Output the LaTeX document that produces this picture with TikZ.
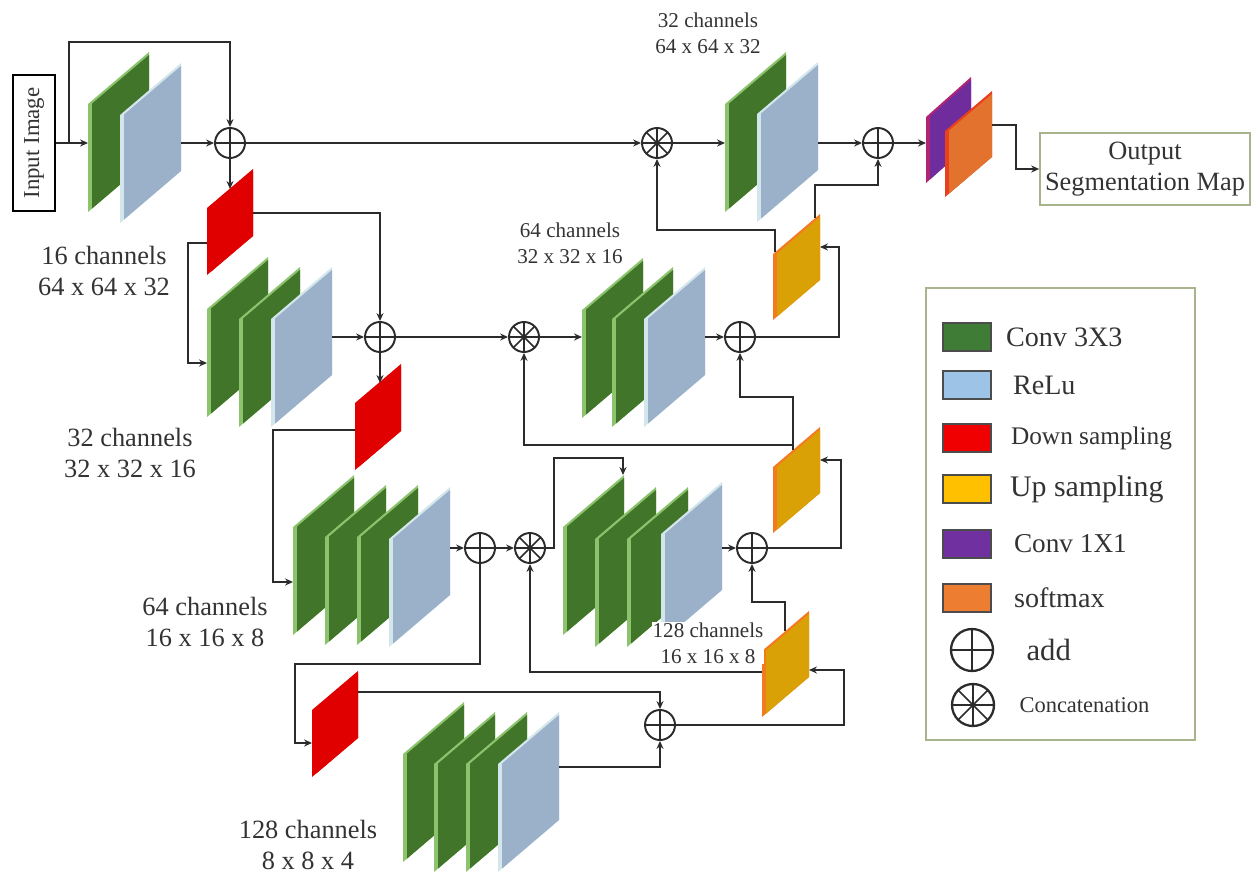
\documentclass[tikz,border=0pt]{standalone}
\usepackage{fontspec}
\setmainfont{Liberation Serif}
\usepackage{xcolor}
\definecolor{convdark}{HTML}{41752A}
\definecolor{convlight}{HTML}{8CC46E}
\definecolor{reludark}{HTML}{9BB1C9}
\definecolor{relulight}{HTML}{D2E6EC}
\definecolor{downred}{HTML}{E00000}
\definecolor{upgold}{HTML}{D9A106}
\definecolor{uporange}{HTML}{F47A1F}
\definecolor{purplefill}{HTML}{6E2C9C}
\definecolor{purpleedge}{HTML}{B02474}
\definecolor{softfill}{HTML}{E2722E}
\definecolor{softedge}{HTML}{E8401C}
\definecolor{boxgreen}{HTML}{A7B48E}
\definecolor{linegray}{HTML}{2B2B2B}
\definecolor{txtgray}{HTML}{333333}
\definecolor{legconv}{HTML}{3F7D36}
\definecolor{legrelu}{HTML}{9DC3E6}
\definecolor{legdown}{HTML}{F00000}
\definecolor{legup}{HTML}{FFC000}
\definecolor{legone}{HTML}{7030A0}
\definecolor{legsoft}{HTML}{ED7D31}
\usepackage{tikz}
\usetikzlibrary{arrows.meta,positioning,calc}

\begin{document}
\begin{tikzpicture}[
  x=0.2mm, y=-0.2mm,
  font=\fontsize{15}{18}\selectfont,
  slab/.style n args={5}{inner sep=0pt, outer sep=0pt, anchor=south west,
    minimum width=#1*0.2mm, minimum height=(#2+#3)*0.2mm,
    path picture={
      \fill[#4] (path picture bounding box.south west) -- ++(0,-#2)
        -- (path picture bounding box.north east) -- ++(0,#2) -- cycle;
      \fill[#5] ($(path picture bounding box.south west)+(4,-4*#3/#1)$)
        -- ++(0,-#2+3) -- ($(path picture bounding box.north east)+(0,3)$)
        -- ++(0,#2-3) -- cycle;}},
  conv/.style={slab={61}{108}{52}{convlight}{convdark}},
  relu/.style={slab={61}{108}{52}{relulight}{reludark}},
  downsamp/.style={slab={46}{67}{39}{downred}{downred}},
  upsamp/.style={slab={47}{66}{40}{uporange}{upgold}},
  convone/.style={slab={45}{66}{40}{purpleedge}{purplefill}},
  soft/.style={slab={47}{66}{40}{softedge}{softfill}},
  addop/.style={circle, draw=linegray, fill=white, line width=1.1pt,
    minimum size=6mm, inner sep=0pt,
    path picture={\draw[linegray, line width=1pt]
      (path picture bounding box.north) -- (path picture bounding box.south)
      (path picture bounding box.west) -- (path picture bounding box.east);}},
  catop/.style={addop,
    path picture={\draw[linegray, line width=0.9pt]
      (path picture bounding box.north) -- (path picture bounding box.south)
      (path picture bounding box.west) -- (path picture bounding box.east)
      (path picture bounding box.north west) -- (path picture bounding box.south east)
      (path picture bounding box.north east) -- (path picture bounding box.south west);}},
  lab/.style={align=center, text=txtgray},
  smalllab/.style={lab, font=\fontsize{12}{15}\selectfont},
  swatch/.style={draw=black!70, line width=0.8pt, minimum width=9.6mm,
    minimum height=5.6mm, inner sep=0pt},
  legtext/.style={anchor=west, inner sep=0pt, text=txtgray},
  frame/.style={draw=boxgreen, line width=1pt, inner sep=0pt},
  arr/.style={-{Stealth[length=4.5pt, width=4pt]}, line width=1pt, draw=linegray}
]
\useasboundingbox (0,0) rectangle (1253,876);

\node[conv] (e1c1) at (88,212) {};
\node[relu] (e1r) at (120,223) {};
\node[conv] (e2c1) at (207,417) {};
\node[conv] (e2c2) at (239,427) {};
\node[relu] (e2r) at (271,427) {};
\node[conv] (e3c1) at (293,635) {};
\node[conv] (e3c2) at (325,645) {};
\node[conv] (e3c3) at (357,645) {};
\node[relu] (e3r) at (389,647) {};
\node[conv] (bc1) at (403,862) {};
\node[conv] (bc2) at (434,872) {};
\node[conv] (bc3) at (466,872) {};
\node[relu] (br) at (498,872) {};
\node[conv] (d3c1) at (563,635) {};
\node[conv] (d3c2) at (595,647) {};
\node[conv] (d3c3) at (627,647) {};
\node[relu] (d3r) at (661,642) {};
\node[conv] (d2c1) at (582,418) {};
\node[conv] (d2c2) at (612,427) {};
\node[relu] (d2r) at (644,427) {};
\node[conv] (d1c1) at (725,212) {};
\node[relu] (d1r) at (757,222) {};
\node[downsamp] (red1) at (207,275) {};
\node[downsamp] (red2) at (355,470) {};
\node[downsamp] (red3) at (312,777) {};
\node[upsamp] (up1) at (773,320) {};
\node[upsamp] (up2) at (773,533) {};
\node[upsamp] (up3) at (762,717) {};
\node[convone] (o1) at (926,183) {};
\node[soft] (o2) at (945,197) {};

\node[addop] (a1) at (230,143) {};
\node[catop] (c1) at (657,143) {};
\node[addop] (a7) at (878,143) {};
\node[addop] (a2) at (380,337) {};
\node[catop] (c2) at (524,337) {};
\node[addop] (a6) at (740,337) {};
\node[addop] (a3) at (480,548) {};
\node[catop] (c3) at (530,548) {};
\node[addop] (a5) at (752,548) {};
\node[addop] (a4) at (660,725) {};

\node[draw=black, line width=0.9pt, minimum width=8.4mm, minimum height=27.2mm,
      inner sep=0pt, font=\fontsize{13}{15}\selectfont, text=txtgray] (input) at (34,143) {\rotatebox{90}{Input Image}};
\node[frame, minimum width=42mm, minimum height=14.4mm, align=center, text=txtgray] (outbox) at (1145,169) {Output\\Segmentation Map};

\draw[arr] (input.east) -- (e1c1.west |- input.east);
\draw[arr] ($(input.east)+(13,0)$) -- ++(0,-101) -| (a1.north);
\draw[arr] (e1r.east |- a1) -- (a1.west);
\draw[arr] (a1.east) -- (c1.west);
\draw[arr] (c1.east) -- (d1c1.west |- c1);
\draw[arr] (d1r.east |- a7) -- (a7.west);
\draw[arr] (a7.east) -- (o1.west |- a7);
\draw[arr] ($(o2.east)+(0,-19)$) -- ++(24,0) |- (outbox.west);
\draw[arr] (a1.south) -- ++(0,30);
\draw[arr] ($(red1.east)+(0,-9)$) -| (a2.north);
\draw[arr] ($(red1.west)+(0,21)$) -- ++(-19,0) |- ($(e2c1.west)+(0,26)$);
\draw[arr] (e2r.east |- a2) -- (a2.west);
\draw[arr] (a2.east) -- (c2.west);
\draw[arr] (c2.east) -- (d2c1.west |- c2);
\draw[arr] (d2r.east |- a6) -- (a6.west);
\draw[arr] (a2.south) -- ++(0,30);
\draw[arr] ($(red2.west)+(0,13)$) -- ++(-82,0) |- ($(e3c1.west)+(0,27)$);
\draw[arr] (e3r.east |- a3) -- (a3.west);
\draw[arr] (a3.east) -- (c3.west);
\draw[arr] (c3.east) -- ++(8,0) |- ($(d3c1.north east)+(-1,-17)$) -- ($(d3c1.north east)+(-1,0)$);
\draw[arr] (d3r.east |- a5) -- (a5.west);
\draw[arr] (a3.south) -- ++(0,100) -| ($(red3.west)+(-17,19)$) -- ++(17,0);
\draw[arr] ($(red3.east)+(0,-32)$) -| (a4.north);
\draw[arr] ($(br.east)+(0,-25)$) -| (a4.south);
\draw[arr] (a4.east) -- ++(168,0) |- ($(up3.east)+(0,6)$);
\draw[arr] ($(up3.west)+(0,8)$) -| (c3.south);
\draw[arr] ($(up3.north west)+(23,20)$) -- ++(0,-29) -| (a5.south);
\draw[arr] (a5.east) -- ++(73,0) |- ($(up2.east)+(0,-20)$);
\coordinate (up2top) at ($(up2.north west)+(20,23)$);
\draw[arr] (up2top) -- ++(0,-5) -| (c2.south);
\draw[arr] (up2top) -- ++(0,-53) -| (a6.south);
\draw[arr] (a6.east) -- ++(83,0) |- ($(up1.east)+(0,-20)$);
\draw[arr] ($(up1.north west)+(2,38)$) -- ++(0,-22) -| (c1.south);
\draw[arr] ($(up1.north east)+(-5,4)$) -- ++(0,-33) -| (a7.south);

\node[lab] (l16) at (104,271) {16 channels\\64 x 64 x 32};
\node[lab] (l32) at (130,453) {32 channels\\32 x 32 x 16};
\node[lab] (l64) at (205,622) {64 channels\\16 x 16 x 8};
\node[lab] (l128) at (308,845) {128 channels\\8 x 8 x 4};
\node[smalllab] (u32) at (708,33) {32 channels\\64 x 64 x 32};
\node[smalllab] (u64) at (570,243) {64 channels\\32 x 32 x 16};
\node[smalllab, fill=white, inner sep=0.5pt] (u128) at (708,643) {128 channels\\16 x 16 x 8};

\node[frame, minimum width=53.8mm, minimum height=90.4mm] (legend) at (1060.5,514) {};
\node[swatch, fill=legconv] (kconv) at (967,337) {};
\node[swatch, fill=legrelu] (krelu) at (967,385) {};
\node[swatch, fill=legdown] (kdown) at (967,438) {};
\node[swatch, fill=legup] (kup) at (967,489) {};
\node[swatch, fill=legone] (kone) at (967,544) {};
\node[swatch, fill=legsoft] (ksoft) at (967,598) {};
\node[addop, minimum size=8.4mm, line width=1.3pt] (kadd) at (972,650) {};
\node[catop, minimum size=8.4mm, line width=1.3pt] (kcat) at (973,705) {};
\node[legtext, right=2.8mm of kconv, font=\fontsize{16}{18}\selectfont] (tconv) {Conv 3X3};
\node[legtext, right=4.2mm of krelu, font=\fontsize{16}{18}\selectfont] (trelu) {ReLu};
\node[legtext, right=3.8mm of kdown, font=\fontsize{14.4}{16}\selectfont] (tdown) {Down sampling};
\node[legtext, right=3.6mm of kup, font=\fontsize{17}{19}\selectfont] (tup) {Up sampling};
\node[legtext, right=4.4mm of kone, font=\fontsize{15.5}{18}\selectfont] (tone) {Conv 1X1};
\node[legtext, right=4.4mm of ksoft, font=\fontsize{16}{18}\selectfont] (tsoft) {softmax};
\node[legtext, right=6.4mm of kadd, font=\fontsize{17.5}{19}\selectfont] (tadd) {add};
\node[legtext, right=4.8mm of kcat, font=\fontsize{12.8}{15}\selectfont] (tcat) {Concatenation};
\end{tikzpicture}
\end{document}
